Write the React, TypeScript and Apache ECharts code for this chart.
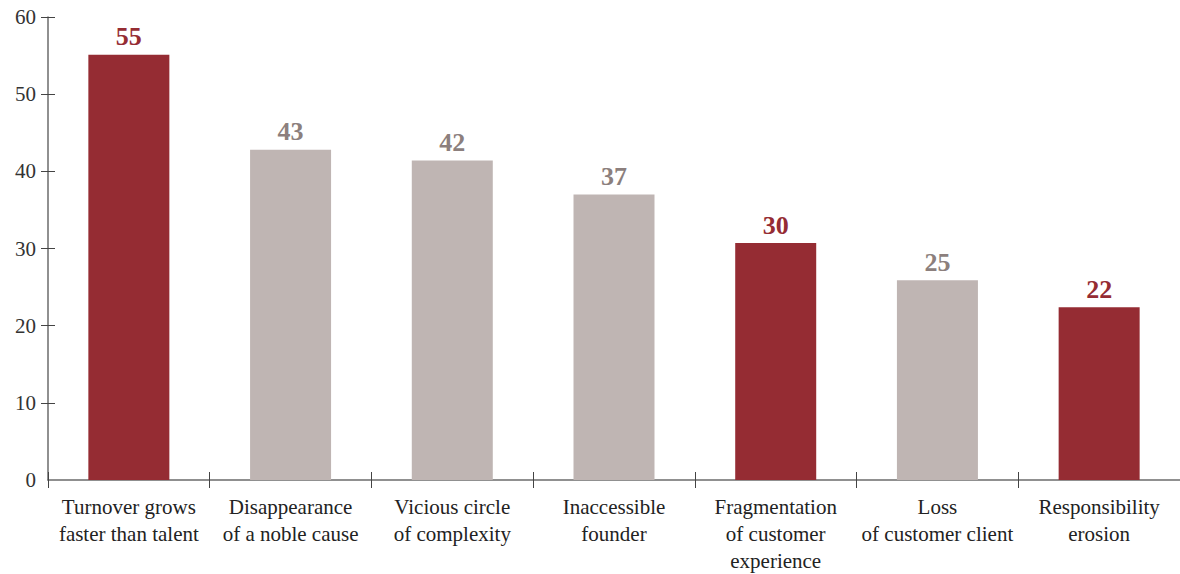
import React, { useEffect, useRef } from "react";
import * as echarts from "echarts";

const categories = [
  "Turnover grows\nfaster than talent",
  "Disappearance\nof a noble cause",
  "Vicious circle\nof complexity",
  "Inaccessible\nfounder",
  "Fragmentation\nof customer\nexperience",
  "Loss\nof customer client",
  "Responsibility\nerosion",
];
const values = [55.1, 42.8, 41.4, 37.0, 30.7, 25.9, 22.4];
const valueLabels = ["55", "43", "42", "37", "30", "25", "22"];
const highlighted = [true, false, false, false, true, false, true];
const yTicks = [10, 20, 30, 40, 50, 60];

const RED = "#952C33";
const GREY = "#BFB5B3";
const GREY_LABEL = "#8C7F7D";
const FONT = "'Liberation Serif', serif";

export default function App() {
  const ref = useRef<HTMLDivElement>(null);
  useEffect(() => {
    if (!ref.current) return;
    const chart = echarts.init(ref.current, undefined, { renderer: "svg" });
    const data = values.map((v, i) => ({
      value: v,
      itemStyle: { color: highlighted[i] ? RED : GREY },
      label: {
        show: true,
        position: "top",
        distance: 5,
        formatter: () => valueLabels[i],
        color: highlighted[i] ? RED : GREY_LABEL,
        fontFamily: FONT,
        fontWeight: "bold",
        fontSize: 26,
      },
    }));
    const tickStyle = { color: "#444", width: 1 };
    chart.setOption({
      animation: false,
      grid: { left: 48, top: 17, width: 1140, height: 464, containLabel: false },
      xAxis: [
        {
          type: "category",
          data: categories,
          axisLine: { lineStyle: { color: "#6b6b6b", width: 1.5 } },
          axisTick: { show: true, length: 8, inside: false, lineStyle: tickStyle },
          axisLabel: {
            color: "#222",
            fontFamily: FONT,
            fontSize: 21,
            lineHeight: 27,
            margin: 13,
            interval: 0,
          },
        },
        {
          type: "category",
          position: "bottom",
          data: categories,
          axisLine: { show: false },
          axisTick: { show: true, length: 8, inside: true, lineStyle: tickStyle },
          axisLabel: { show: false },
        },
      ],
      yAxis: [
        {
          type: "value",
          min: 0,
          max: 60,
          interval: 10,
          splitLine: { show: false },
          axisLine: { show: true, lineStyle: { color: "#6b6b6b", width: 1.5 } },
          axisTick: { show: true, length: 7, customValues: yTicks, lineStyle: tickStyle },
          axisLabel: {
            color: "#333",
            fontFamily: FONT,
            fontSize: 21,
            margin: 12,
          },
        },
        {
          type: "value",
          position: "left",
          min: 0,
          max: 60,
          interval: 10,
          splitLine: { show: false },
          axisLine: { show: false },
          axisTick: { show: true, inside: true, length: 7, customValues: yTicks, lineStyle: tickStyle },
          axisLabel: { show: false },
        },
      ],
      series: [
        {
          type: "bar",
          data,
          barWidth: 81,
          xAxisIndex: 0,
          yAxisIndex: 0,
        },
      ],
    });
    return () => chart.dispose();
  }, []);
  return (
    <div
      ref={ref}
      style={{ position: "absolute", left: 0, top: 0, width: 1180, height: 574, background: "#fff" }}
    />
  );
}
